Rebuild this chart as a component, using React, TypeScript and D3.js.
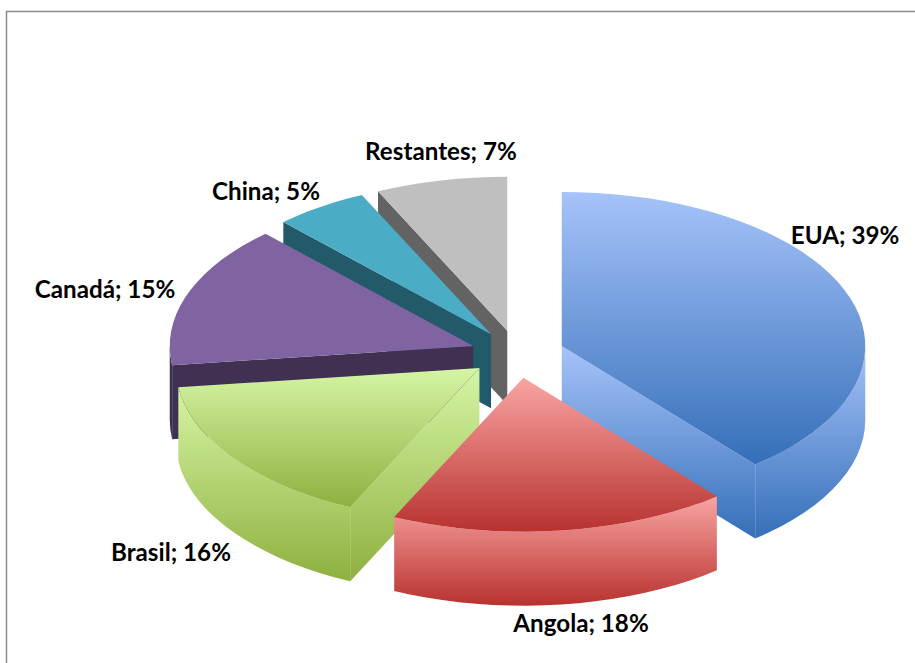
import React from "react";
import * as d3 from "d3";

const categories = ["EUA", "Angola", "Brasil", "Canadá", "China", "Restantes"];
const shares = [39, 18, 16, 15, 5, 7];
const topLight = ["#a6c3fa", "#f9a5a3", "#d6f5a5", "#8064a2", "#4bacc6", "#bfbfbf"];
const topDark = ["#356fb8", "#b8322f", "#8eb03f", "#8064a2", "#4bacc6", "#bfbfbf"];
const wallLight = ["#a6c3fa", "#f9a5a3", "#d6f5a5", "#403152", "#235a69", "#636363"];
const wallDark = ["#356fb8", "#b8322f", "#8eb03f", "#403152", "#235a69", "#636363"];
const labelX = [845, 581, 171, 105, 266, 441];
const labelY = [244, 632, 561, 298, 200, 160];

const W = 915;
const H = 663;
const explode = 0.155;
const depth = 74;
const sx = d3.scaleLinear().domain([-1, 1]).range([214, 821]);
const sy = d3.scaleLinear().domain([-1, 1]).range([200, 508]);

type Pt = [number, number];
const TAU = Math.PI * 2;

function sampled(a0: number, a1: number): number[] {
  const n = Math.max(1, Math.round((a1 - a0) / (TAU / 110)));
  return d3.range(n + 1).map((i) => a0 + ((a1 - a0) * i) / n);
}

export default function App() {
  const arcs = d3
    .pie<number>()
    .sort(null)
    .value((d) => d)(shares);
  const line = d3.line<Pt>();

  const slices = arcs.map((arc, i) => {
    const mid = (arc.startAngle + arc.endAngle) / 2;
    const ox = explode * Math.sin(mid);
    const oy = -explode * Math.cos(mid);
    const at = (a: number): Pt => [sx(ox + Math.sin(a)), sy(oy - Math.cos(a))];
    const apex: Pt = [sx(ox), sy(oy)];
    const down = (p: Pt): Pt => [p[0], p[1] + depth];
    const rim = sampled(arc.startAngle, arc.endAngle).map(at);
    const top = line([apex, ...rim]) + "Z";
    const walls: string[] = [];
    const w0 = Math.max(arc.startAngle, Math.PI / 2);
    const w1 = Math.min(arc.endAngle, (3 * Math.PI) / 2);
    if (w1 > w0) {
      const pts = sampled(w0, w1).map(at);
      walls.push(line([...pts, ...pts.slice().reverse().map(down)]) + "Z");
    }
    if (arc.startAngle > Math.PI && arc.startAngle < TAU) {
      const p = at(arc.startAngle);
      walls.push(line([apex, p, down(p), down(apex)]) + "Z");
    }
    if (arc.endAngle > 0 && arc.endAngle < Math.PI) {
      const p = at(arc.endAngle);
      walls.push(line([apex, p, down(p), down(apex)]) + "Z");
    }
    return { i, apexY: apex[1], top, walls };
  });
  const ordered = slices.slice().sort((a, b) => d3.ascending(a.apexY, b.apexY));

  return (
    <svg
      width={W}
      height={H}
      viewBox={`0 0 ${W} ${H}`}
      style={{ position: "absolute", left: 0, top: 0, display: "block", background: "#fff" }}
    >
      <defs>
        {categories.map((_, i) => (
          <React.Fragment key={i}>
            <linearGradient id={`top${i}`} x1="0" y1="0" x2="0" y2="1">
              <stop offset="0" stopColor={topLight[i]} />
              <stop offset="1" stopColor={topDark[i]} />
            </linearGradient>
            <linearGradient id={`wall${i}`} x1="0" y1="0" x2="0" y2="1">
              <stop offset="0" stopColor={wallLight[i]} />
              <stop offset="1" stopColor={wallDark[i]} />
            </linearGradient>
          </React.Fragment>
        ))}
      </defs>
      <path d={`M6.5 ${H}V11.5H${W}`} fill="none" stroke="#8c8c8c" strokeWidth={1.5} />
      {ordered.map((s) => (
        <g key={s.i}>
          {s.walls.map((d, j) => (
            <path key={j} d={d} fill={`url(#wall${s.i})`} />
          ))}
          <path d={s.top} fill={`url(#top${s.i})`} />
        </g>
      ))}
      {categories.map((c, i) => (
        <text
          key={c}
          x={labelX[i]}
          y={labelY[i]}
          textAnchor="middle"
          fontFamily="Lato, 'Open Sans', sans-serif"
          fontWeight={700}
          fontSize={24.2}
          fill="#000"
        >
          {`${c}; ${shares[i]}%`}
        </text>
      ))}
    </svg>
  );
}
